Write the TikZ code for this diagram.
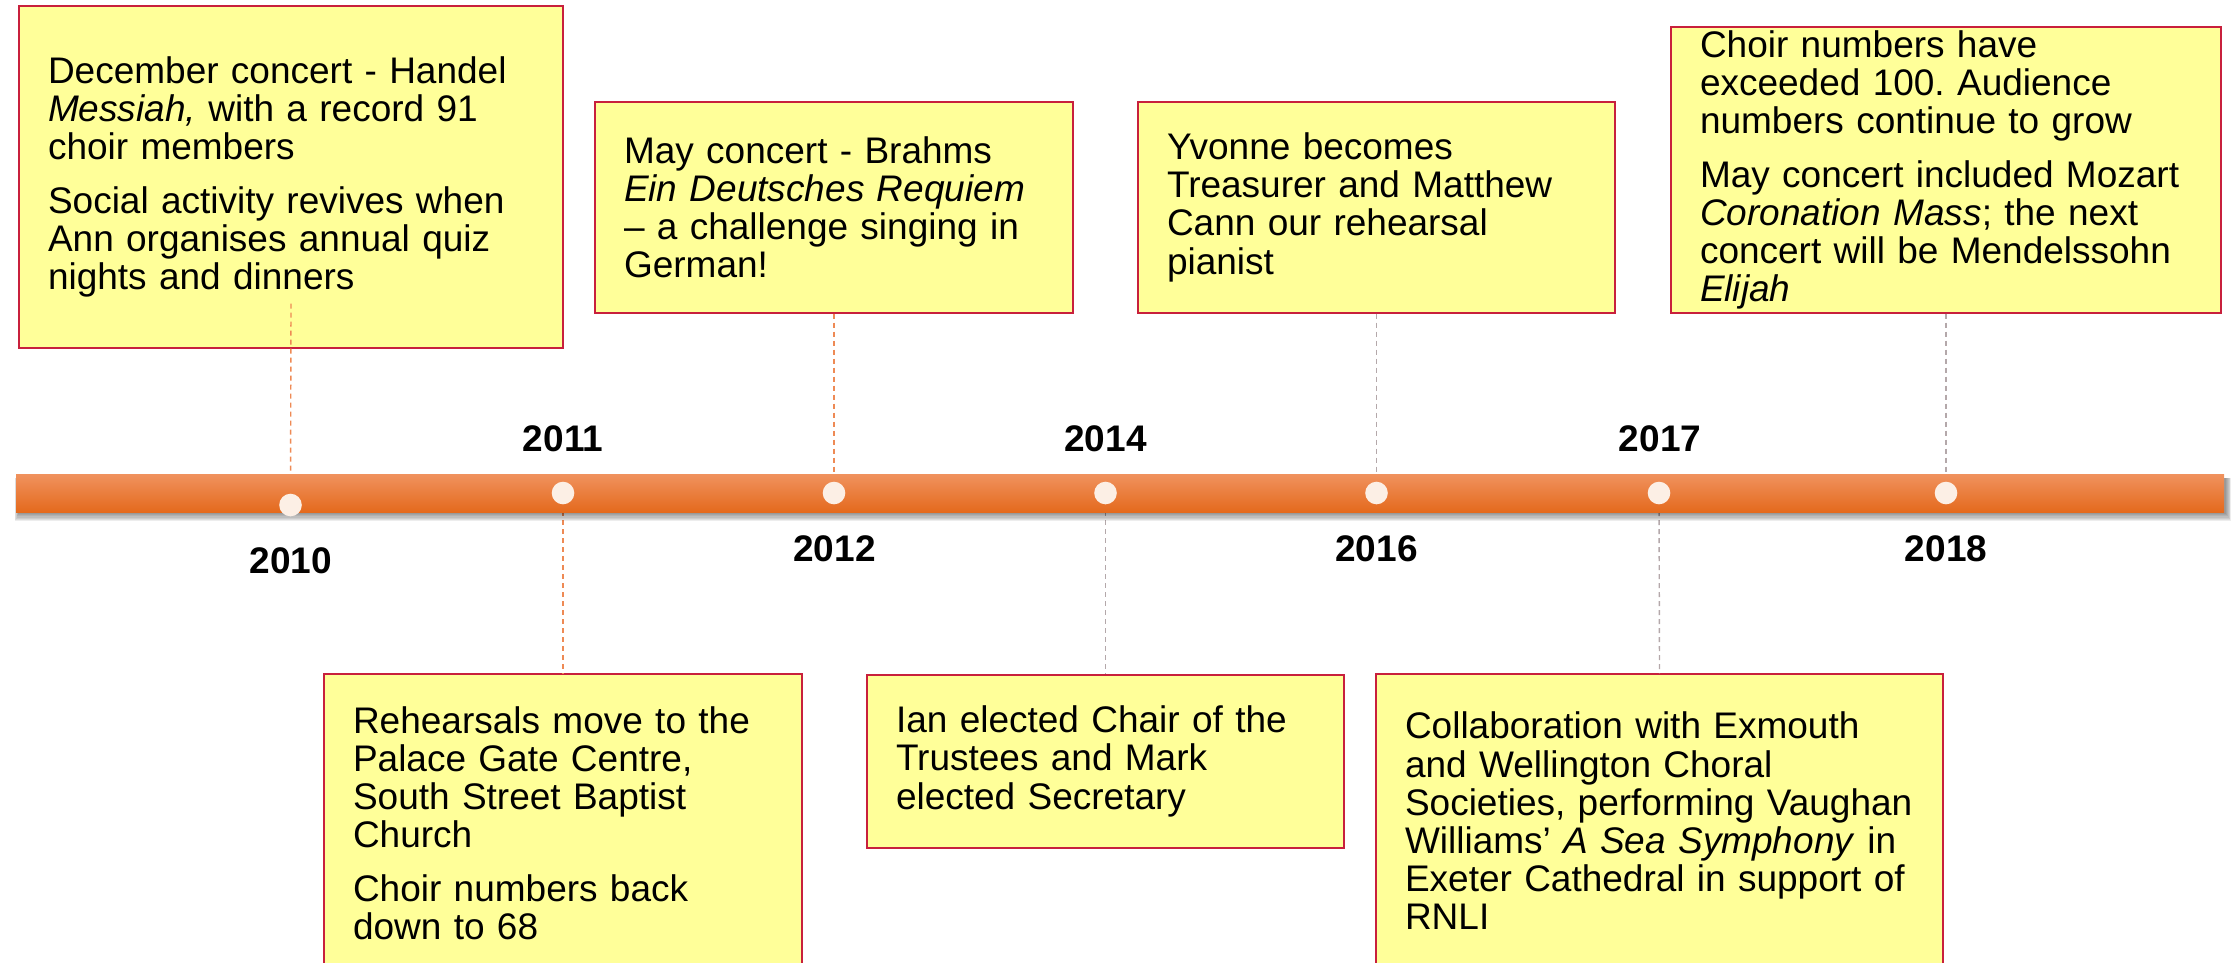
\documentclass[tikz,border=0pt]{standalone}
\usepackage{fontspec}
\setmainfont{Liberation Sans}
\frenchspacing
\definecolor{boxfill}{HTML}{FFFF99}
\definecolor{boxline}{HTML}{C8203C}
\definecolor{linkorange}{HTML}{EE8A55}
\definecolor{linkgray}{HTML}{B4A8AA}
\definecolor{dotfill}{HTML}{FCEFE5}
\definecolor{bartop}{HTML}{F0925E}
\definecolor{barmid}{HTML}{F47E32}
\definecolor{barbot}{HTML}{E4691C}
\pgfdeclarelayer{boxlayer}
\pgfdeclarelayer{linklayer}
\pgfdeclarelayer{barlayer}
\pgfsetlayers{boxlayer,linklayer,barlayer,main}
\begin{document}
\begin{tikzpicture}[x=1pt,y=-1pt,
  event/.style={draw=boxline, line width=1.4pt, fill=boxfill, inner xsep=29pt, inner ysep=0pt,
    align=left, font=\fontsize{37}{38.2}\selectfont\frenchspacing, anchor=center},
  year/.style={font=\fontsize{37}{40}\selectfont\bfseries, anchor=base, inner sep=0pt},
  dot/.style={circle, fill=dotfill, draw=none, minimum size=22.6pt, inner sep=0pt},
  linko/.style={draw=linkorange, dash pattern=on 5pt off 4pt, line width=1.4pt},
  linkg/.style={draw=linkgray, dash pattern=on 5pt off 4pt, line width=1.4pt}
]
\useasboundingbox (0,0) rectangle (2236,962);

\begin{pgfonlayer}{boxlayer}
\node[event, minimum width=544pt, minimum height=342pt, text width=486pt] (b2010) at (291,177) {%
December concert - Handel\\
\textit{Messiah,} with a record 91\\
choir members\\[15pt]
Social activity revives when\\
Ann organises annual quiz\\
nights and dinners};
\node[event, minimum width=478pt, minimum height=211pt, text width=420pt] (b2012) at (834,207.3) {%
May concert - Brahms\\
\textit{Ein Deutsches Requiem}\\
– a challenge singing in\\
German!};
\node[event, minimum width=477pt, minimum height=211pt, text width=419pt] (b2016) at (1376.5,207.3) {%
Yvonne becomes\\
Treasurer and Matthew\\
Cann our rehearsal\\
pianist};
\node[event, minimum width=550pt, minimum height=286pt, text width=492pt] (b2018) at (1946,170) {%
Choir numbers have\\
exceeded 100. Audience\\
numbers continue to grow\\[15pt]
\mbox{May concert included Mozart}\\
\textit{Coronation Mass}; the next\\
concert will be Mendelssohn\\
\textit{Elijah}};
\node[event, minimum width=478pt, minimum height=298pt, text width=420pt] (b2011) at (563,823) {%
Rehearsals move to the\\
Palace Gate Centre,\\
South Street Baptist\\
Church\\[15pt]
Choir numbers back\\
down to 68};
\node[event, minimum width=477pt, minimum height=173pt, text width=419pt] (b2014) at (1105.5,761.3) {%
Ian elected Chair of the\\
Trustees and Mark\\
elected Secretary};
\node[event, minimum width=567pt, minimum height=294pt, text width=509pt] (b2017) at (1659.5,821) {%
Collaboration with Exmouth\\
and Wellington Choral\\
\mbox{Societies, performing Vaughan}\\
\mbox{Williams’ \textit{A Sea Symphony} in}\\
\mbox{Exeter Cathedral in support of}\\
RNLI};
\end{pgfonlayer}

% dots on the timeline
\node[dot] (d2010) at (290.5,505) {};
\node[dot] (d2011) at (563,493) {};
\node[dot] (d2012) at (834,493) {};
\node[dot] (d2014) at (1105.5,493) {};
\node[dot] (d2016) at (1376.5,493) {};
\node[dot] (d2017) at (1659,493) {};
\node[dot] (d2018) at (1946,493) {};

% year labels
\node[year] (y2010) at (291,573) {2010};
\node[year] (y2011) at (563,451) {2011};
\node[year] (y2012) at (834.5,561) {2012};
\node[year] (y2014) at (1105.5,451) {2014};
\node[year] (y2016) at (1376.5,561) {2016};
\node[year] (y2017) at (1660,451) {2017};
\node[year] (y2018) at (1946,561) {2018};

% dashed leaders
\begin{pgfonlayer}{linklayer}
\draw[linko] ([yshift=45pt]b2010.south) -- (d2010.center);
\draw[linko] (d2011.center) -- (b2011.north);
\draw[linko] (b2012.south) -- (d2012.center);
\draw[linkg] (d2014.center) -- (b2014.north);
\draw[linkg] (b2016.south) -- (d2016.center);
\draw[linkg] (d2017.center) -- (b2017.north);
\draw[linkg] (b2018.south) -- (d2018.center);
\end{pgfonlayer}

% the bar with its shadow
\begin{pgfonlayer}{barlayer}
\foreach \i in {1,...,7} {
  \fill[black, opacity=0.07] (16+3-\i*0.6,478) rectangle (2224+1+\i*0.9,512.7+\i*1.25);
}
\shade[top color=bartop, middle color=barmid, bottom color=barbot] (16,474) rectangle (2224,512.7);
\end{pgfonlayer}
\end{tikzpicture}
\end{document}
